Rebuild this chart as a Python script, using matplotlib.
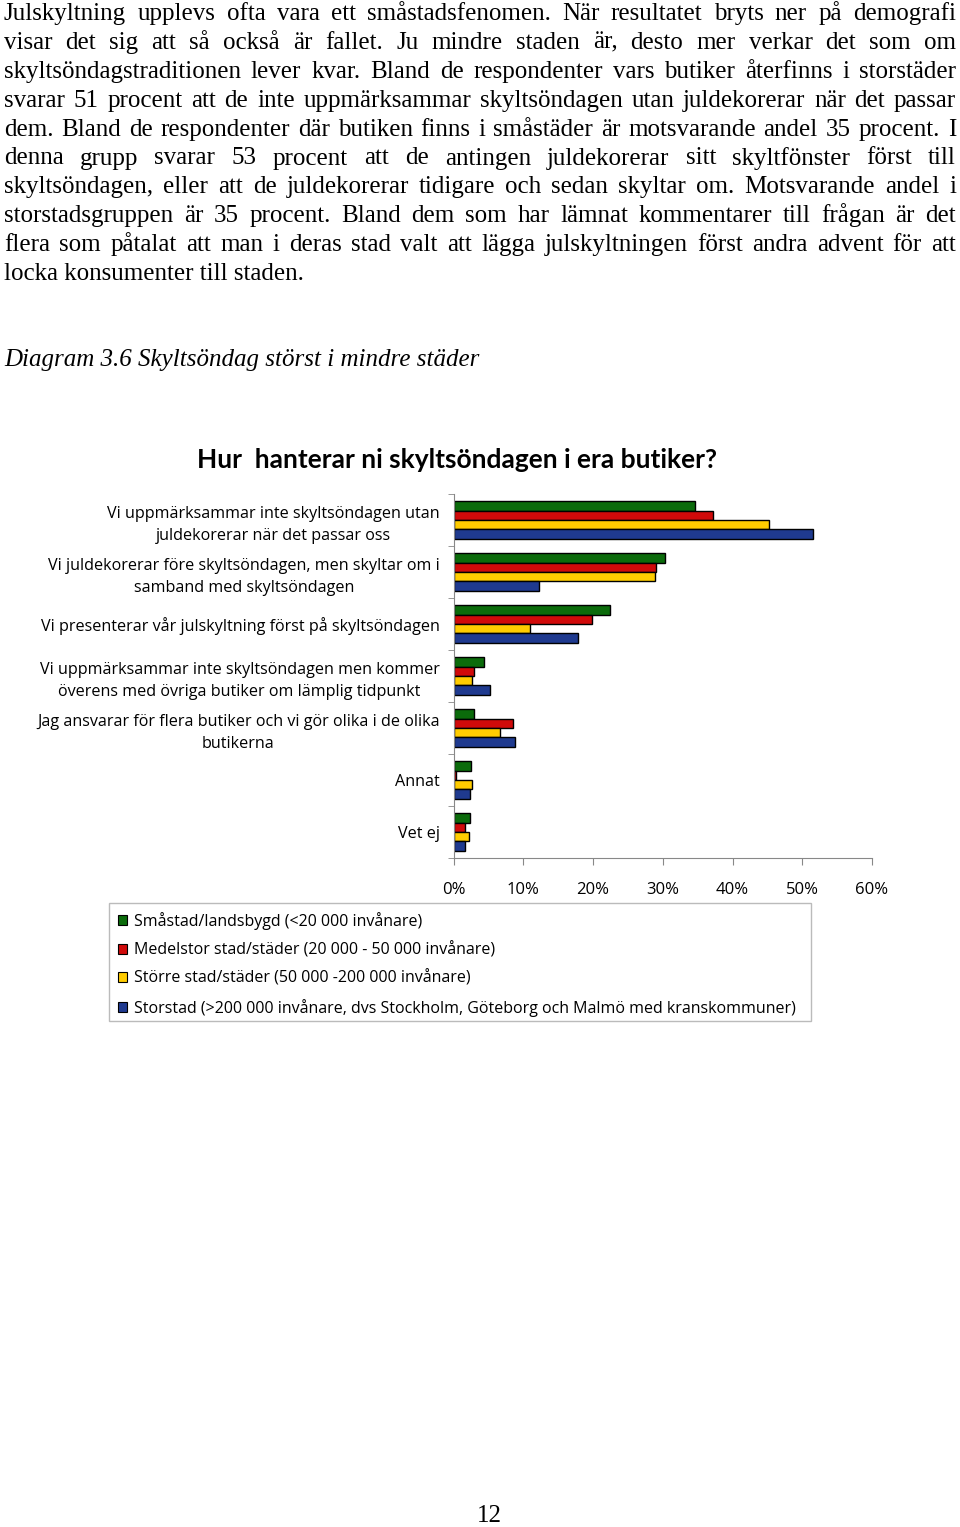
import matplotlib
matplotlib.use("Agg")
import matplotlib.pyplot as plt
from matplotlib.patches import Patch, Rectangle
import numpy as np

W, H = 960, 1527

paragraph = [
    "Julskyltning upplevs ofta vara ett småstadsfenomen. När resultatet bryts ner på demografi",
    "visar det sig att så också är fallet. Ju mindre staden är, desto mer verkar det som om",
    "skyltsöndagstraditionen lever kvar. Bland de respondenter vars butiker återfinns i storstäder",
    "svarar 51 procent att de inte uppmärksammar skyltsöndagen utan juldekorerar när det passar",
    "dem. Bland de respondenter där butiken finns i småstäder är motsvarande andel 35 procent. I",
    "denna grupp svarar 53 procent att de antingen juldekorerar sitt skyltfönster först till",
    "skyltsöndagen, eller att de juldekorerar tidigare och sedan skyltar om. Motsvarande andel i",
    "storstadsgruppen är 35 procent. Bland dem som har lämnat kommentarer till frågan är det",
    "flera som påtalat att man i deras stad valt att lägga julskyltningen först andra advent för att",
    "locka konsumenter till staden.",
]
caption = "Diagram 3.6 Skyltsöndag störst i mindre städer"
title = "Hur  hanterar ni skyltsöndagen i era butiker?"
page_no = "12"

categories = [
    "Vi uppmärksammar inte skyltsöndagen utan\njuldekorerar när det passar oss",
    "Vi juldekorerar före skyltsöndagen, men skyltar om i\nsamband med skyltsöndagen",
    "Vi presenterar vår julskyltning först på skyltsöndagen",
    "Vi uppmärksammar inte skyltsöndagen men kommer\növerens med övriga butiker om lämplig tidpunkt",
    "Jag ansvarar för flera butiker och vi gör olika i de olika\nbutikerna",
    "Annat",
    "Vet ej",
]
series_names = [
    "Småstad/landsbygd (<20 000 invånare)",
    "Medelstor stad/städer (20 000 - 50 000 invånare)",
    "Större stad/städer (50 000 -200 000 invånare)",
    "Storstad (>200 000 invånare, dvs Stockholm, Göteborg och Malmö med kranskommuner)",
]
smastad = [0.346, 0.303, 0.225, 0.044, 0.029, 0.025, 0.023]
medelstor = [0.372, 0.291, 0.198, 0.029, 0.086, 0.004, 0.017]
storre = [0.452, 0.289, 0.110, 0.026, 0.066, 0.027, 0.022]
storstad = [0.515, 0.122, 0.178, 0.052, 0.088, 0.023, 0.017]
xticks = [0, 0.1, 0.2, 0.3, 0.4, 0.5, 0.6]

colors = ["#0b6b0b", "#d00a0a", "#ffcc00", "#1f3a8f"]


def fx(x):
    return x / W


def fy(y):
    return 1 - y / H


fig = plt.figure(figsize=(9.6, 15.27), dpi=100)
renderer = fig.canvas.get_renderer()

# body text, justified line by line
body_font = dict(fontsize=18, family="Liberation Serif", va="baseline")
for i, line in enumerate(paragraph):
    y = 20 + 28.9 * i
    if i == len(paragraph) - 1:
        fig.text(fx(4), fy(y), line, **body_font)
        continue
    words = line.split()
    texts = [fig.text(0, fy(y), w, **body_font) for w in words]
    widths = [t.get_window_extent(renderer).width for t in texts]
    gap = (956 - 4 - sum(widths)) / (len(words) - 1)
    x = 4
    for t, w in zip(texts, widths):
        t.set_x(fx(x))
        x += w + gap

fig.text(fx(4), fy(366), caption, fontsize=18, family="Liberation Serif",
         style="italic", va="baseline")
fig.text(fx(457), fy(460), title, fontsize=19, family="Lato", weight="bold",
         ha="center", va="center")
fig.text(fx(489), fy(1522), page_no, fontsize=18, family="Liberation Serif",
         ha="center", va="baseline")

# chart
ax = fig.add_axes([fx(453.5), fy(858), (872 - 453.5) / W, (858 - 494) / H])
data = [smastad, medelstor, storre, storstad]
y = np.arange(len(categories))
h = 0.18
for k, vals in enumerate(data):
    ax.barh(y + (k - 1.5) * h, vals, height=h, color=colors[k],
            edgecolor="black", linewidth=1.0)

ax.set_xlim(0, 0.6)
ax.set_ylim(len(categories) - 0.5, -0.5)
ax.set_xticks(xticks)
ax.set_xticklabels(["%d%%" % round(v * 100) for v in xticks],
                   fontsize=12, family="Open Sans")
ax.set_yticks(y)
ax.set_yticklabels(categories, fontsize=11.6, family="Open Sans",
                   multialignment="center", linespacing=1.5)
ax.set_yticks(np.arange(len(categories) + 1) - 0.5, minor=True)
ax.tick_params(axis="y", which="major", length=0, pad=10)
ax.tick_params(axis="y", which="minor", length=4, color="#888888")
ax.tick_params(axis="x", length=5, color="#888888", pad=12)
for s in ["top", "right"]:
    ax.spines[s].set_visible(False)
for s in ["left", "bottom"]:
    ax.spines[s].set_color("#888888")

# legend box drawn separately so its size matches the original
fig.add_artist(Rectangle((fx(109), fy(1021)), (811 - 109) / W, (1021 - 903) / H,
                         transform=fig.transFigure, facecolor="none",
                         edgecolor="#bbbbbb", linewidth=1.0))
handles = [Patch(facecolor=c, edgecolor="black", linewidth=0.8) for c in colors]
leg = fig.legend(handles, series_names, loc="upper left",
                 bbox_to_anchor=(fx(109), fy(903)), borderaxespad=0,
                 frameon=False, prop={"family": "Open Sans", "size": 11.5},
                 handlelength=0.6, handleheight=0.6, handletextpad=0.4,
                 labelspacing=0.75, borderpad=0.55)

fig.savefig("out.png", dpi=100)
